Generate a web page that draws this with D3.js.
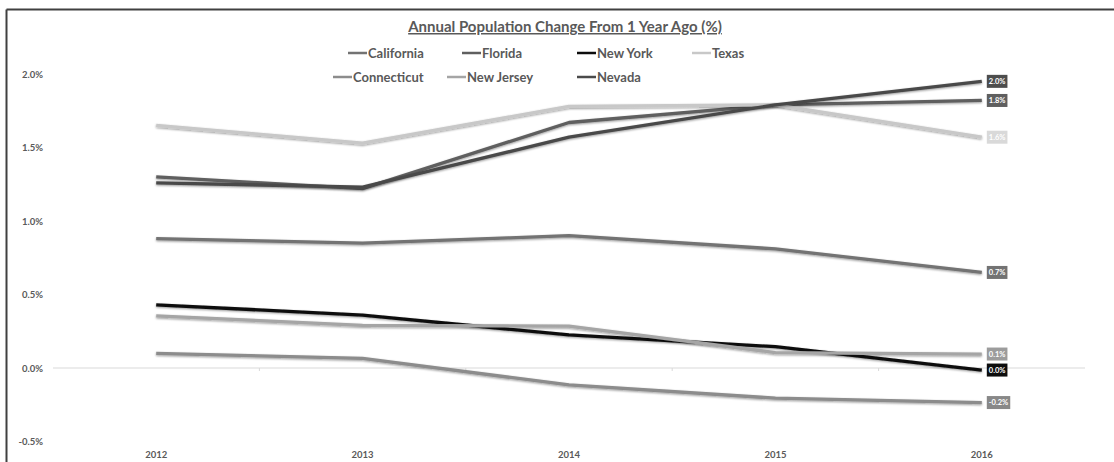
<!DOCTYPE html>
<html>
<head>
<meta charset="utf-8">
<script src="https://cdn.jsdelivr.net/npm/d3@7"></script>
<style>
  body { margin: 0; background: #fff; }
  text { font-family: Lato, "Open Sans", sans-serif; font-weight: bold; }
</style>
</head>
<body>
<div id="chart"></div>
<script>
// data (% change from 1 year ago)
const years = ["2012", "2013", "2014", "2015", "2016"];
const seriesNames = ["California", "Florida", "New York", "Texas", "Connecticut", "New Jersey", "Nevada"];
const california = [0.88, 0.85, 0.90, 0.81, 0.65];
const florida = [1.30, 1.22, 1.67, 1.79, 1.82];
const newYork = [0.43, 0.36, 0.225, 0.145, -0.014];
const texas = [1.65, 1.53, 1.78, 1.79, 1.57];
const connecticut = [0.10, 0.065, -0.115, -0.205, -0.235];
const newJersey = [0.355, 0.29, 0.285, 0.105, 0.095];
const nevada = [1.26, 1.23, 1.57, 1.79, 1.95];
const yTicks = [-0.5, 0, 0.5, 1.0, 1.5, 2.0];

const lineColors = ["#737373", "#5f5f5f", "#0d0d0d", "#c8c8c8", "#8c8c8c", "#a5a5a5", "#4a4a4a"];
const boxColors = ["#737373", "#5f5f5f", "#0d0d0d", "#d9d9d9", "#888888", "#9c9c9c", "#4d4d4d"];

const series = [california, florida, newYork, texas, connecticut, newJersey, nevada]
  .map((values, i) => ({ name: seriesNames[i], values: values, color: lineColors[i], box: boxColors[i] }));

const width = 1114, height = 462;

const svg = d3.select("#chart").append("svg")
  .attr("width", width)
  .attr("height", height);

const defs = svg.append("defs");
defs.append("filter").attr("id", "shadow")
  .attr("x", "-5%").attr("y", "-50%").attr("width", "110%").attr("height", "200%")
  .append("feDropShadow")
  .attr("dx", 0).attr("dy", 1).attr("stdDeviation", 1.1)
  .attr("flood-color", "#000").attr("flood-opacity", 0.4);

// frame
svg.append("line").attr("x1", 6.5).attr("x2", width).attr("y1", 9.5).attr("y2", 9.5)
  .attr("stroke", "#404040").attr("stroke-width", 2);
svg.append("line").attr("x1", 6.5).attr("x2", 6.5).attr("y1", 9.5).attr("y2", height)
  .attr("stroke", "#404040").attr("stroke-width", 2);

const x = d3.scaleBand().domain(years).range([53, 1085]);
const y = d3.scaleLinear().domain([-0.5, 2.0]).range([441.5, 74]);
const xc = d => x(d) + x.bandwidth() / 2;

// title
svg.append("text")
  .attr("x", 565).attr("y", 32)
  .attr("text-anchor", "middle")
  .attr("font-size", 15)
  .attr("fill", "#595959")
  .attr("text-decoration", "underline")
  .text("Annual Population Change From 1 Year Ago (%)");

// legend
const legendPos = [[348, 53], [462, 53], [577, 53], [692, 53], [333, 77], [447, 77], [577, 77]];
const legend = svg.append("g").selectAll("g").data(series).join("g")
  .attr("transform", (d, i) => `translate(${legendPos[i][0]},${legendPos[i][1]})`);
legend.append("line").attr("x1", 0).attr("x2", 19)
  .attr("stroke", d => d.color).attr("stroke-width", 2.5);
legend.append("text").attr("x", 20).attr("dy", "0.35em")
  .attr("font-size", 13).attr("fill", "#595959")
  .text(d => d.name);

// y axis labels
const yAxis = svg.append("g").attr("transform", "translate(52,0)")
  .call(d3.axisLeft(y).tickValues(yTicks).tickSize(0).tickPadding(9)
    .tickFormat(d => d.toFixed(1) + "%"));
yAxis.select(".domain").remove();
yAxis.selectAll("text").attr("font-size", 9.5).attr("fill", "#595959")
  .style("font-family", "Lato, sans-serif").style("font-weight", "bold");

// zero line with category ticks
svg.append("line").attr("x1", 53).attr("x2", 1085).attr("y1", y(0)).attr("y2", y(0))
  .attr("stroke", "#d9d9d9").attr("stroke-width", 1);
svg.append("g").selectAll("line").data(years.slice(1)).join("line")
  .attr("x1", d => x(d)).attr("x2", d => x(d))
  .attr("y1", y(0)).attr("y2", y(0) + 3)
  .attr("stroke", "#d9d9d9");

// x axis labels
const xAxis = svg.append("g").attr("transform", `translate(0,${y(-0.5)})`)
  .call(d3.axisBottom(x).tickSize(0).tickPadding(10));
xAxis.select(".domain").remove();
xAxis.selectAll("text").attr("font-size", 9.5).attr("fill", "#595959")
  .style("font-family", "Lato, sans-serif").style("font-weight", "bold");

// lines
const line = d3.line()
  .x((d, i) => xc(years[i]))
  .y(d => y(d));

svg.append("g").selectAll("path").data(series).join("path")
  .attr("d", d => line(d.values))
  .attr("fill", "none")
  .attr("stroke", d => d.color)
  .attr("stroke-width", 3.3)
  .attr("stroke-linejoin", "round")
  .attr("filter", "url(#shadow)");

// end labels
const fmt = v => (Math.round(v * 10) / 10 + 0).toFixed(1) + "%";
const labels = svg.append("g").selectAll("g").data(series).join("g")
  .attr("transform", d => `translate(${xc(years[4]) + 5},${y(d.values[4])})`);
labels.append("rect")
  .attr("y", -6.5).attr("height", 13)
  .attr("fill", d => d.box);
labels.append("text")
  .attr("x", 2).attr("dy", "0.35em")
  .attr("font-size", 7.5).attr("fill", "#fff")
  .text(d => fmt(d.values[4]));
labels.each(function () {
  const g = d3.select(this);
  const w = g.select("text").node().getComputedTextLength();
  g.select("rect").attr("width", w + 4);
});
</script>
</body>
</html>
